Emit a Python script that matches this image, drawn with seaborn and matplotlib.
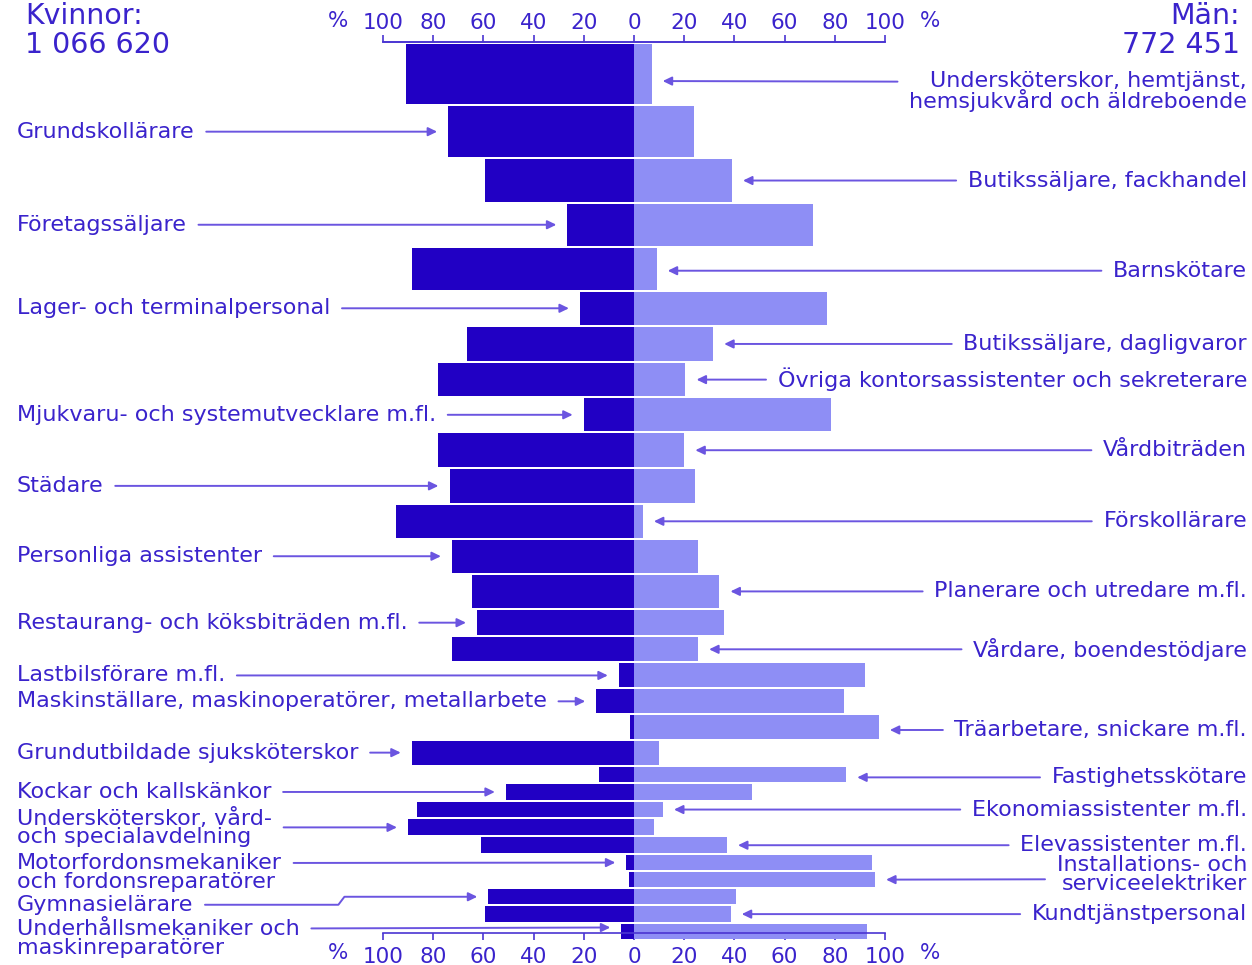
import matplotlib
matplotlib.use('Agg')
import matplotlib.pyplot as plt
import matplotlib.transforms as mtransforms
import numpy as np
import seaborn as sns

# De 30 största yrkena, uppifrån och ned
yrken = [
    "Undersköterskor, hemtjänst,\nhemsjukvård och äldreboende",
    "Grundskollärare",
    "Butikssäljare, fackhandel",
    "Företagssäljare",
    "Barnskötare",
    "Lager- och terminalpersonal",
    "Butikssäljare, dagligvaror",
    "Övriga kontorsassistenter och sekreterare",
    "Mjukvaru- och systemutvecklare m.fl.",
    "Vårdbiträden",
    "Städare",
    "Förskollärare",
    "Personliga assistenter",
    "Planerare och utredare m.fl.",
    "Restaurang- och köksbiträden m.fl.",
    "Vårdare, boendestödjare",
    "Lastbilsförare m.fl.",
    "Maskinställare, maskinoperatörer, metallarbete",
    "Träarbetare, snickare m.fl.",
    "Grundutbildade sjuksköterskor",
    "Fastighetsskötare",
    "Kockar och kallskänkor",
    "Ekonomiassistenter m.fl.",
    "Undersköterskor, vård-\noch specialavdelning",
    "Elevassistenter m.fl.",
    "Motorfordonsmekaniker\noch fordonsreparatörer",
    "Installations- och\nserviceelektriker",
    "Gymnasielärare",
    "Kundtjänstpersonal",
    "Underhållsmekaniker och\nmaskinreparatörer",
]
# andel kvinnor / män i procent
kvinnor_pct = [91, 74, 59.5, 26.5, 88.5, 21.5, 66.5, 78, 20, 78,
               73.5, 95, 72.5, 64.5, 62.5, 72.5, 6, 15, 1.5, 88.5,
               14, 51, 86.5, 90, 61, 3, 2, 58, 59.5, 5]
man_pct = [7, 24, 39, 71.5, 9, 77, 31.5, 20.5, 78.5, 20,
           24.5, 3.5, 25.5, 34, 36, 25.5, 92, 83.5, 97.5, 10,
           84.5, 47, 11.5, 8, 37, 95, 96, 40.5, 38.5, 93]
# antal anställda (tusental, uppskattat) -> stapelns tjocklek
antal_tusental = [127, 109, 91, 90, 90, 72, 74, 72, 72, 73,
                  73, 72, 71, 73, 55, 54, 53, 53, 52, 53,
                  36, 36, 36, 37, 36, 35, 35, 35, 36, 35]
# sida där etiketten står: v = vänster, h = höger
sida = ['h', 'v', 'h', 'v', 'h', 'v', 'h', 'h', 'v', 'h',
        'v', 'h', 'v', 'h', 'v', 'h', 'v', 'v', 'h', 'v',
        'h', 'v', 'h', 'v', 'h', 'v', 'h', 'v', 'h', 'v']
totalt_kvinnor = "1 066 620"
totalt_man = "772 451"
ticks = [-100, -80, -60, -40, -20, 0, 20, 40, 60, 80, 100]
tick_text = [str(abs(t)) for t in ticks]

MORK = '#2100c4'
LJUS = '#8e8ef5'
TEXT = '#3a23cc'
PIL = '#6b55e0'
AXEL = '#4a35d2'

sns.set_theme(style='white')
plt.rcParams['font.family'] = ['DejaVu Sans']

W, H = 1252, 965
fig = plt.figure(figsize=(W / 100, H / 100), dpi=100)
ax = fig.add_axes([383 / W, (H - 933) / H, 502 / W, (933 - 42) / H])

antal = np.array(antal_tusental, dtype=float)
total = antal.sum()
k = 897 / total  # pixlar per tusental
start = np.concatenate([[0], np.cumsum(antal)[:-1]])
glapp = 2 / k

ax.barh(start + glapp / 2, [-v for v in kvinnor_pct], height=antal - glapp,
        align='edge', color=MORK, linewidth=0, clip_on=False, zorder=1)
ax.barh(start + glapp / 2, man_pct, height=antal - glapp,
        align='edge', color=LJUS, linewidth=0, clip_on=False, zorder=1)

ax.set_xlim(-100, 100)
ax.set_ylim(890 / k, -1 / k)
ax.set_yticks([])
ax.set_xticks(ticks, labels=tick_text)
ax.tick_params(axis='x', top=False, labeltop=False, bottom=True, labelbottom=True,
               direction='out', length=5, width=1.2, color=AXEL,
               labelcolor=TEXT, labelsize=15.5, pad=5)
for s in ['left', 'right']:
    ax.spines[s].set_visible(False)
for s in ['top', 'bottom']:
    ax.spines[s].set_color(AXEL)
    ax.spines[s].set_linewidth(1.2)
    ax.spines[s].set_zorder(3)
ax.patch.set_alpha(0)

# övre skalan
topp = ax.secondary_xaxis('top')
topp.set_xticks(ticks, labels=tick_text)
topp.tick_params(direction='out', length=5, width=1.2, color=AXEL,
                 labelcolor=TEXT, labelsize=15.5, pad=1.5)
topp.spines['top'].set_color(AXEL)
topp.spines['top'].set_linewidth(1.2)

for xp in [338, 930]:
    for yp in [21, 953]:
        fig.text(xp / W, 1 - yp / H, '%', color=TEXT, fontsize=15.5,
                 ha='center', va='center')

fig.text(25 / W, 1 - 16 / H, 'Kvinnor:', color=TEXT, fontsize=20.5, va='center')
fig.text(25 / W, 1 - 45 / H, totalt_kvinnor, color=TEXT, fontsize=20.5, va='center')
fig.text(1240 / W, 1 - 16 / H, 'Män:', color=TEXT, fontsize=20.5, va='center', ha='right')
fig.text(1240 / W, 1 - 45 / H, totalt_man, color=TEXT, fontsize=20.5, va='center', ha='right')

# justeringar i pixlar för etiketter med två rader
pil_dy = {0: 7, 4: 2, 18: 3, 20: 3, 29: -4}
text_dy = {0: 10.5, 25: 10, 26: -5, 27: 8, 29: 11}
rel_y = {0: 0.74, 25: 0.75, 26: 0.38, 29: 0.76}

trans_txt = mtransforms.blended_transform_factory(fig.transFigure, ax.transData)
for i, namn in enumerate(yrken):
    ypil = start[i] + antal[i] / 2 + pil_dy.get(i, 0) / k
    ytext = ypil + text_dy.get(i, 0) / k
    if sida[i] == 'v':
        xy = (-kvinnor_pct[i], ypil)
        xt, ha, rp = 17 / W, 'left', (1, rel_y.get(i, 0.5))
    else:
        xy = (man_pct[i], ypil)
        xt, ha, rp = 1247 / W, 'right', (0, rel_y.get(i, 0.5))
    conn = 'arc3,rad=0'
    if namn == 'Gymnasielärare':
        conn = 'arc,angleA=0,angleB=180,armA=145,armB=144,rad=0'
    ax.annotate(namn, xy=xy, xytext=(xt, ytext), textcoords=trans_txt,
                ha=ha, va='center', multialignment=ha, linespacing=0.9,
                color=TEXT, fontsize=16, annotation_clip=False,
                arrowprops=dict(arrowstyle='-|>,head_length=0.33,head_width=0.16',
                                color=PIL, lw=1.4, shrinkA=6, shrinkB=8,
                                relpos=rp, connectionstyle=conn))

fig.savefig('out.png', dpi=100)
